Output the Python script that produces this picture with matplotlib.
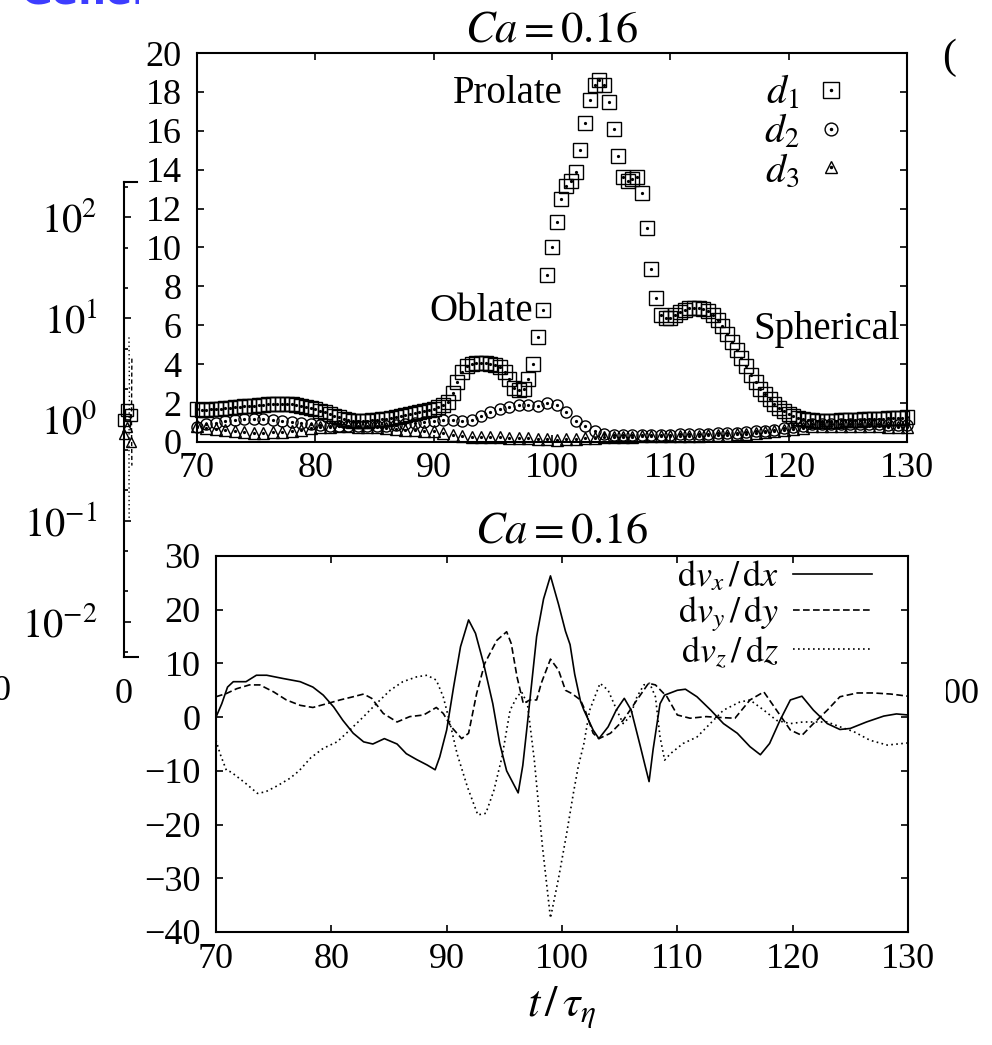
import numpy as np
import matplotlib
matplotlib.use('Agg')
import matplotlib.pyplot as plt
from matplotlib.legend_handler import HandlerTuple
from matplotlib.patches import Rectangle

plt.rcParams['font.family'] = ['Liberation Serif', 'DejaVu Serif']
plt.rcParams['mathtext.fontset'] = 'stix'

# deformation d1 (every sample) and d2, d3 (every second sample)
t_d1 = np.arange(151) * 0.4 + 70.0
t_d23 = np.arange(76) * 0.8 + 70.0

d1 = [1.68, 1.66, 1.66, 1.68, 1.70, 1.72, 1.74, 1.76, 1.78, 1.80, 1.83,
      1.85, 1.87, 1.89, 1.91, 1.93, 1.95, 1.96, 1.96, 1.95, 1.93,
      1.90, 1.86, 1.81, 1.75, 1.68, 1.60, 1.52, 1.44, 1.36, 1.28,
      1.20, 1.14, 1.10, 1.08, 1.08, 1.09, 1.11, 1.13, 1.16, 1.20,
      1.25, 1.30, 1.35, 1.40, 1.45, 1.50, 1.55, 1.60, 1.66, 1.72,
      1.80, 1.90, 2.07, 2.50, 3.10, 3.60, 3.90, 4.00, 4.05, 4.07,
      4.05, 4.02, 3.97, 3.86, 3.60, 3.25, 2.80, 2.66, 2.70, 3.25,
      4.00, 5.40, 6.80, 8.60, 10.00, 11.30, 12.50, 13.15, 13.40, 13.90,
      15.00, 16.40, 17.60, 18.35, 18.60, 18.35, 17.50, 16.10, 14.70, 13.65,
      13.40, 13.50, 13.60, 12.80, 11.00, 8.90, 7.40, 6.55, 6.36, 6.40,
      6.53, 6.70, 6.79, 6.87, 6.90, 6.90, 6.85, 6.75, 6.53, 6.27,
      5.95, 5.56, 5.16, 4.75, 4.30, 3.90, 3.45, 3.07, 2.74, 2.45,
      2.20, 1.93, 1.75, 1.58, 1.44, 1.32, 1.24, 1.18, 1.14, 1.11,
      1.10, 1.09, 1.09, 1.10, 1.10, 1.11, 1.12, 1.13, 1.14, 1.15,
      1.16, 1.17, 1.18, 1.19, 1.20, 1.21, 1.22, 1.23, 1.25, 1.27]

d2 = [0.78, 0.90, 1.00, 1.07, 1.13, 1.17, 1.19, 1.18, 1.14, 1.08,
      1.02, 0.96, 0.90, 0.86, 0.83, 0.81, 0.80, 0.80, 0.81, 0.82,
      0.84, 0.87, 0.91, 0.96, 1.02, 1.10, 1.14, 1.12, 1.09, 1.14,
      1.33, 1.55, 1.70, 1.82, 1.89, 1.88, 1.86, 2.00, 1.92, 1.55,
      1.10, 0.80, 0.56, 0.42, 0.36, 0.34, 0.34, 0.35, 0.36, 0.37,
      0.38, 0.39, 0.40, 0.41, 0.42, 0.44, 0.46, 0.48, 0.51, 0.54,
      0.58, 0.63, 0.70, 0.77, 0.84, 0.90, 0.93, 0.94, 0.94, 0.93,
      0.92, 0.91, 0.90, 0.89, 0.88, 0.88]

d3 = [0.80, 0.74, 0.66, 0.60, 0.54, 0.50, 0.48, 0.48, 0.50, 0.53,
      0.58, 0.64, 0.70, 0.75, 0.78, 0.80, 0.80, 0.79, 0.77, 0.75,
      0.72, 0.68, 0.64, 0.60, 0.57, 0.55, 0.48, 0.36, 0.29, 0.26,
      0.25, 0.24, 0.24, 0.23, 0.22, 0.20, 0.16, 0.13, 0.12, 0.13,
      0.15, 0.18, 0.22, 0.25, 0.27, 0.28, 0.28, 0.29, 0.29, 0.30,
      0.30, 0.31, 0.32, 0.33, 0.34, 0.35, 0.37, 0.39, 0.42, 0.45,
      0.49, 0.54, 0.60, 0.67, 0.74, 0.80, 0.83, 0.84, 0.84, 0.83,
      0.82, 0.81, 0.80, 0.79, 0.78, 0.78]

# velocity gradients along the trajectory
t_vx = [70.0, 70.5, 71.0, 71.5, 72.6, 73.5, 74.4, 75.8, 77.3, 78.4,
        79.3, 80.2, 81.0, 81.9, 82.8, 83.6, 84.6, 85.7, 86.5, 87.4,
        88.3, 89.0, 89.4, 90.0, 90.6, 91.2, 91.9, 92.5, 93.2, 94.0,
        94.6, 95.2, 96.2, 96.6, 97.0, 97.8, 98.4, 99.0, 99.7, 100.3,
        100.7, 101.1, 101.6, 101.9, 102.7, 103.2, 104.0, 104.7, 105.4, 106.0,
        106.8, 107.2, 107.55, 107.9, 108.5, 108.9, 110.0, 110.7, 111.7, 112.9,
        114.0, 115.2, 116.3, 117.2, 118.0, 118.9, 119.8, 120.8, 121.8, 123.0,
        124.1, 125.0, 126.4, 127.9, 129.0, 130.0]
dvx = [0.0, 2.5, 5.6, 6.6, 6.6, 7.8, 7.8, 7.2, 6.6, 5.6,
       4.1, 1.9, -0.6, -3.0, -4.6, -5.0, -4.0, -5.0, -6.8, -7.9,
       -8.9, -9.8, -7.4, -2.4, 5.6, 13.1, 18.1, 15.6, 10.0, 2.5,
       -4.9, -10.0, -14.1, -9.0, -1.2, 15.0, 22.0, 26.3, 21.0, 16.0,
       13.5, 8.0, 3.0, 1.3, -2.4, -4.0, -1.8, 1.3, 3.5, 1.3,
       -5.5, -9.0, -12.0, -6.0, 2.5, 4.1, 5.0, 5.2, 3.8, 1.3,
       -1.2, -3.0, -5.5, -7.0, -4.9, -0.6, 3.2, 3.9, 1.3, -1.2,
       -2.3, -2.1, -0.9, 0.2, 0.6, 0.4]

t_vy = [70.0, 70.9, 71.8, 72.9, 73.8, 75.0, 76.1, 77.3, 78.4, 79.6,
        80.75, 81.9, 82.8, 83.5, 84.5, 85.7, 86.8, 88.0, 89.1, 89.7,
        90.4, 91.3, 91.9, 92.6, 93.3, 94.35, 95.2, 95.6, 96.1, 96.65,
        97.2, 97.8, 98.2, 99.0, 99.7, 100.3, 100.85, 101.6, 102.0, 102.7,
        103.2, 104.2, 105.3, 106.5, 107.5, 108.1, 109.1, 110.0, 111.1, 112.5,
        114.0, 115.0, 116.3, 117.5, 118.6, 119.8, 120.8, 121.8, 123.0, 124.1,
        125.6, 127.0, 128.5, 130.0]
dvy = [3.8, 4.4, 5.3, 6.0, 6.0, 4.7, 3.2, 2.2, 1.8, 2.5,
       3.2, 3.8, 4.3, 3.5, 0.7, -0.9, 0.1, 0.4, 1.8, 0.7,
       -1.8, -4.0, -3.0, 4.4, 10.0, 14.3, 15.9, 13.7, 7.5, 2.5,
       3.2, 3.2, 6.3, 10.8, 8.75, 5.0, 4.4, 3.2, 1.3, -3.0,
       -4.0, -3.0, -0.6, 3.2, 6.3, 6.0, 3.8, 0.4, -0.2, 0.1,
       -0.1, -0.2, 3.2, 4.7, 1.3, -2.4, -3.4, -1.2, 1.3, 3.8,
       4.5, 4.5, 4.3, 3.9]

t_vz = [70.0, 70.35, 70.9, 71.3, 72.5, 73.6, 74.3, 75.3, 76.4, 77.2,
        78.2, 79.3, 80.5, 81.6, 82.8, 83.9, 85.1, 86.2, 87.4, 88.3,
        89.1, 89.7, 90.3, 90.9, 91.8, 92.7, 93.4, 94.1, 94.8, 95.5,
        96.1, 96.5, 97.0, 97.6, 98.3, 99.0, 99.7, 100.4, 101.0, 101.4,
        101.9, 102.4, 103.3, 104.0, 104.75, 105.3, 105.9, 106.5, 107.1, 107.6,
        108.1, 108.5, 108.9, 109.4, 110.5, 111.7, 112.85, 114.0, 115.4, 116.3,
        117.5, 118.6, 119.8, 120.9, 122.1, 123.0, 124.1, 125.3, 126.7, 128.2,
        130.0]
dvz = [-4.3, -6.8, -9.9, -10.2, -12.2, -14.2, -13.9, -12.8, -11.4, -10.0,
       -7.6, -5.8, -4.6, -2.4, 0.1, 2.5, 5.0, 6.6, 7.5, 7.8,
       6.9, 3.8, -1.2, -6.8, -13.0, -18.2, -17.9, -13.6, -7.4, 1.3,
       3.8, 4.7, 2.5, -8.0, -24.0, -37.4, -30.0, -21.7, -14.0, -9.3,
       -4.9, 1.3, 6.3, 5.0, 1.3, -1.2, 0.1, 3.8, 6.0, 6.3,
       3.8, -3.7, -8.0, -6.8, -4.9, -3.7, -1.2, 1.3, 2.8, 3.2,
       1.3, -0.6, -1.2, -0.9, -0.9, -0.9, -1.8, -2.7, -4.3, -5.2,
       -4.8]

# figure underneath (log axis on the left)
bg_t = [0.0, 0.4, 0.8]
bg_sq = [1.0, 1.25, 1.1]
bg_tri = [0.72, 0.85, 0.6]
bg_dot_t = [0.6, 0.65, 0.6, 0.62]
bg_dot_v = [6.5, 2.0, 0.5, 0.1]
bg_dsh_t = [0.95, 0.9, 0.95]
bg_dsh_v = [4.0, 1.0, 0.35]

W, H = 992, 1045
TICK = 26


def box(left, top, right, bottom):
    return [left / W, 1 - bottom / H, (right - left) / W, (bottom - top) / H]


fig = plt.figure(figsize=(W / 100, H / 100), dpi=100)

# background log axis
ax0 = fig.add_axes(box(124, 182, 124 + 1658, 657))
ax0.set_zorder(0)
ax0.set_yscale('log')
ax0.set_ylim(10 ** -2.35, 10 ** 2.35)
ax0.set_xlim(0, 200)
ax0.plot(bg_t, bg_sq, ls='none', marker='s', ms=9, mfc='none', mec='k', clip_on=False)
ax0.plot(bg_t, bg_tri, ls='none', marker='^', ms=7, mfc='none', mec='k', clip_on=False)
ax0.plot(bg_dot_t, bg_dot_v, color='k', lw=1, ls=(0, (1, 2)))
ax0.plot(bg_dsh_t, bg_dsh_v, color='k', lw=1, ls=(0, (3, 2)))
ax0.spines['right'].set_visible(False)
ax0.spines['top'].set_bounds(0, 1.6)
ax0.spines['bottom'].set_bounds(0, 2.2)
for s in ax0.spines.values():
    s.set_linewidth(1.5)
ax0.set_yticks([10.0 ** k for k in range(-2, 3)])
ax0.set_yticklabels([r'$10^{%d}$' % k for k in range(-2, 3)])
ax0.yaxis.set_minor_locator(matplotlib.ticker.LogLocator(base=10, subs=(2, 5)))
ax0.yaxis.set_minor_formatter(matplotlib.ticker.NullFormatter())
ax0.tick_params(axis='y', which='major', direction='in', length=5, width=1.2, labelsize=29, pad=19)
ax0.tick_params(axis='y', which='minor', direction='in', length=3, width=1.2)
ax0.set_xticks([0, 100])
ax0.set_xticklabels(['0', '100'])
ax0.tick_params(axis='x', length=0, labelsize=TICK, pad=15)

fig.text(20 / W, 1 - 3 / H, 'General', color='#3d3dff', fontsize=28,
         fontweight='bold', family='DejaVu Sans', va='baseline', zorder=0.5)
fig.text(12 / W, 1 - 692 / H, '100', ha='right', va='center', fontsize=TICK, zorder=0.5)
fig.text(942 / W, 1 - 58 / H, '(', ha='left', va='center', fontsize=30, zorder=3)

# white area under both panels
fig.add_artist(Rectangle((139 / W, 0), (946 - 139) / W, 1, transform=fig.transFigure,
                         facecolor='white', edgecolor='none', zorder=1))

# top panel: deformation
ax1 = fig.add_axes(box(197, 53, 907, 442))
ax1.set_zorder(2)
sq, = ax1.plot(t_d1, d1, ls='none', marker='s', ms=9.5, mfc='none', mec='k', mew=1.0, clip_on=False)
sqd, = ax1.plot(t_d1, d1, ls='none', marker='o', ms=1.3, color='k', clip_on=False)
ci, = ax1.plot(t_d23, d2, ls='none', marker='o', ms=8, mfc='none', mec='k', mew=1.0, clip_on=False)
cid, = ax1.plot(t_d23, d2, ls='none', marker='o', ms=1.3, color='k', clip_on=False)
tr, = ax1.plot(t_d23, d3, ls='none', marker='^', ms=8, mfc='none', mec='k', mew=1.0, clip_on=False)
trd, = ax1.plot(t_d23, d3, ls='none', marker='o', ms=1.3, color='k', clip_on=False)
ax1.legend([(sq, sqd), (ci, cid), (tr, trd)], [r'$d_1$', r'$d_2$', r'$d_3$'],
           handler_map={tuple: HandlerTuple(ndivide=1)}, markerfirst=False,
           frameon=False, loc='upper right', bbox_to_anchor=(0.922, 0.945),
           borderaxespad=0, borderpad=0, handlelength=1.0, handletextpad=0.3,
           labelspacing=0.02, fontsize=29, numpoints=1, markerscale=1.15)
ax1.text(100.9, 17.9, 'Prolate', ha='right', va='center', fontsize=28)
ax1.text(98.4, 6.7, 'Oblate', ha='right', va='center', fontsize=28)
ax1.text(117.0, 5.8, 'Spherical', ha='left', va='center', fontsize=28)
ax1.set_xlim(70, 130)
ax1.set_ylim(0, 20)
ax1.set_xticks(range(70, 131, 10))
ax1.set_yticks(range(0, 21, 2))
ax1.tick_params(direction='in', top=True, right=True, length=5, width=1.2, labelsize=TICK)
ax1.tick_params(axis='x', pad=7)
ax1.tick_params(axis='y', pad=11)
ax1.set_title(r'$Ca = 0.16$', fontsize=32, pad=8)
for s in ax1.spines.values():
    s.set_linewidth(1.5)

# bottom panel: velocity gradients
ax2 = fig.add_axes(box(216, 556, 908, 932))
ax2.set_zorder(2)
ax2.plot(t_vx, dvx, color='k', lw=1.2, label=r'$\mathrm{d}v_x\,/\,\mathrm{d}x$')
ax2.plot(t_vy, dvy, color='k', lw=1.2, ls=(0, (4, 2)), label=r'$\mathrm{d}v_y\,/\,\mathrm{d}y$')
ax2.plot(t_vz, dvz, color='k', lw=1.2, ls=(0, (1, 2)), label=r'$\mathrm{d}v_z\,/\,\mathrm{d}z$')
ax2.legend(markerfirst=False, frameon=False, loc='upper right',
           bbox_to_anchor=(0.948, 0.99), borderaxespad=0, borderpad=0,
           handlelength=2.2, handletextpad=0.37, labelspacing=0.0, fontsize=26)
ax2.set_xlim(70, 130)
ax2.set_ylim(-40, 30)
ax2.set_xticks(range(70, 131, 10))
ax2.set_yticks(range(-40, 31, 10))
ax2.tick_params(direction='in', top=True, right=True, length=5, width=1.2, labelsize=TICK)
ax2.tick_params(axis='x', pad=8)
ax2.tick_params(axis='y', pad=11)
ax2.set_title(r'$Ca = 0.16$', fontsize=32, pad=10)
ax2.set_xlabel(r'$t\,/\,\tau_\eta$', fontsize=32, labelpad=6)
for s in ax2.spines.values():
    s.set_linewidth(1.5)

fig.savefig('out.png', dpi=100)
